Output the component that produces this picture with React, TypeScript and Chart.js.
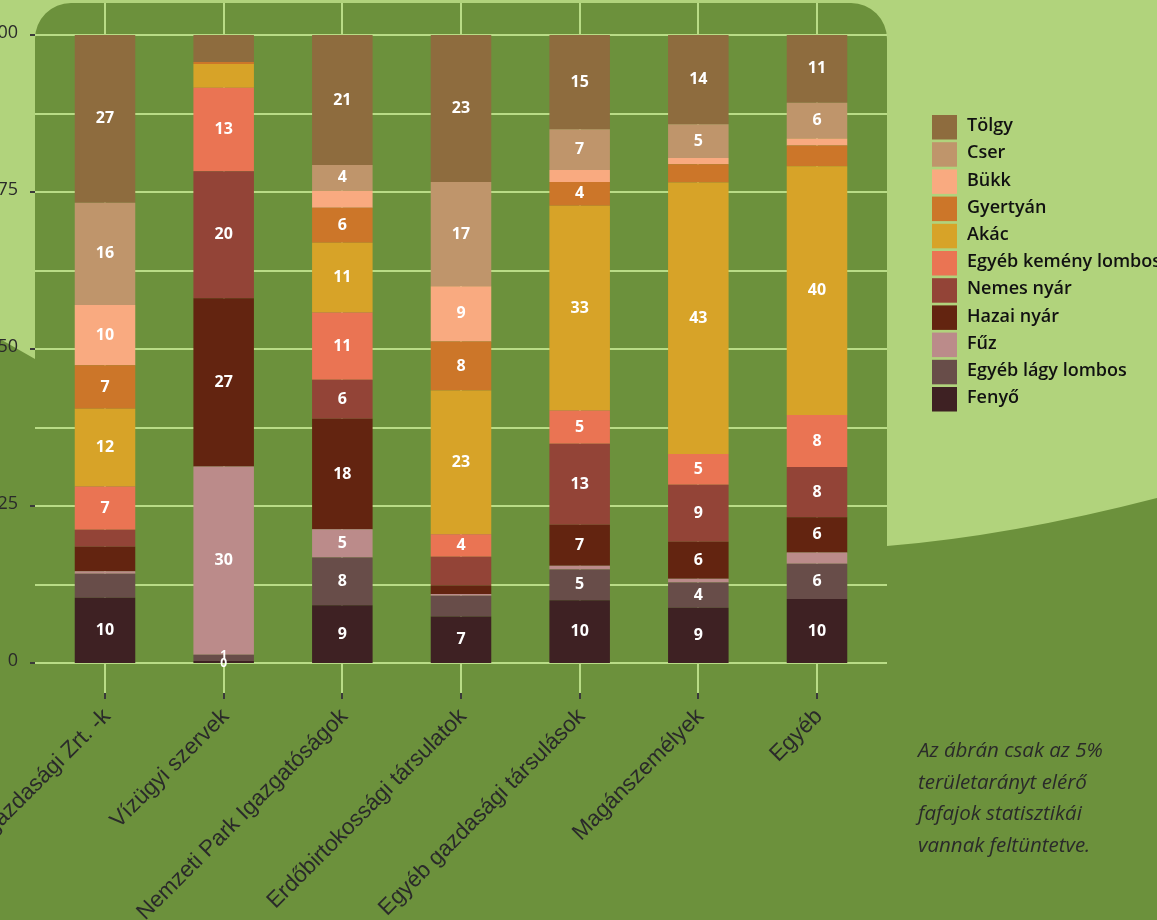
import React, { useEffect, useRef } from "react";
import { Chart, registerables } from "chart.js";

Chart.register(...registerables);

const categories = [
  "Állami erdőgazdasági Zrt. -k",
  "Vízügyi szervek",
  "Nemzeti Park Igazgatóságok",
  "Erdőbirtokossági társulatok",
  "Egyéb gazdasági társulások",
  "Magánszemélyek",
  "Egyéb",
];

const seriesNames = [
  "Tölgy",
  "Cser",
  "Bükk",
  "Gyertyán",
  "Akác",
  "Egyéb kemény lombos",
  "Nemes nyár",
  "Hazai nyár",
  "Fűz",
  "Egyéb lágy lombos",
  "Fenyő",
];

const seriesColors = [
  "#8e6c3e",
  "#bf956b",
  "#f9aa80",
  "#cc7629",
  "#d7a328",
  "#ea7453",
  "#934437",
  "#632410",
  "#bb8b8a",
  "#684d49",
  "#3e2123",
];

const tolgy = [26.7, 4.3, 20.7, 23.4, 15.0, 14.2, 10.8];
const cser = [16.3, 0, 4.1, 16.6, 6.5, 5.4, 5.7];
const bukk = [9.6, 0, 2.7, 8.8, 1.9, 1.0, 1.1];
const gyertyan = [6.9, 0.3, 5.6, 7.8, 3.8, 2.9, 3.3];
const akac = [12.4, 3.8, 11.1, 22.9, 32.6, 43.2, 39.6];
const egyebKemeny = [6.9, 13.3, 10.7, 3.6, 5.3, 4.9, 8.3];
const nemesNyar = [2.7, 20.2, 6.2, 4.5, 12.9, 9.1, 8.0];
const hazaiNyar = [3.9, 26.8, 17.6, 1.4, 6.5, 5.9, 5.6];
const fuz = [0.4, 30.0, 4.5, 0.3, 0.6, 0.6, 1.8];
const egyebLagy = [3.8, 1.0, 7.6, 3.3, 4.9, 4.0, 5.6];
const fenyo = [10.4, 0.3, 9.2, 7.4, 10.0, 8.8, 10.2];

const seriesValues = [
  tolgy,
  cser,
  bukk,
  gyertyan,
  akac,
  egyebKemeny,
  nemesNyar,
  hazaiNyar,
  fuz,
  egyebLagy,
  fenyo,
];

// 1 = value label printed in the segment (as in the original figure)
const showLabel = [
  [1, 0, 1, 1, 1, 1, 1],
  [1, 0, 1, 1, 1, 1, 1],
  [1, 0, 0, 1, 0, 0, 0],
  [1, 0, 1, 1, 1, 0, 0],
  [1, 0, 1, 1, 1, 1, 1],
  [1, 1, 1, 1, 1, 1, 1],
  [0, 1, 1, 0, 1, 1, 1],
  [0, 1, 1, 0, 1, 1, 1],
  [0, 1, 1, 0, 0, 0, 0],
  [0, 1, 1, 0, 1, 1, 1],
  [1, 1, 1, 1, 1, 1, 1],
];

const yTicks = [0, 25, 50, 75, 100];
const yGrid = [0, 12.5, 25, 37.5, 50, 62.5, 75, 87.5, 100];

const footnoteLines = [
  "Az ábrán csak az 5%",
  "területarányt elérő",
  "fafajok statisztikái",
  "vannak feltüntetve.",
];

const DARK = "#6c913c";
const LIGHT = "#b1d37c";
const GRID = "#b9dc86";
const TEXT = "#2a2a2a";

const decorPlugin = {
  id: "decor",
  beforeDraw(chart: any) {
    const ctx = chart.ctx;
    const W = chart.width;
    const H = chart.height;
    const R = 36;
    ctx.save();
    ctx.fillStyle = LIGHT;
    ctx.fillRect(0, 0, W, H);
    ctx.fillStyle = DARK;
    ctx.beginPath();
    ctx.moveTo(0, 339);
    ctx.lineTo(35, 359);
    ctx.lineTo(35, 3 + R);
    ctx.arcTo(35, 3, 35 + R, 3, R);
    ctx.lineTo(887 - R, 3);
    ctx.arcTo(887, 3, 887, 3 + R, R);
    ctx.lineTo(887, 546);
    ctx.quadraticCurveTo(1010, 536, W, 498);
    ctx.lineTo(W, H);
    ctx.lineTo(0, H);
    ctx.closePath();
    ctx.fill();
    ctx.restore();
  },
  beforeDatasetsDraw(chart: any) {
    const ctx = chart.ctx;
    const xs = chart.scales.x;
    const ys = chart.scales.y;
    ctx.save();
    ctx.strokeStyle = GRID;
    ctx.lineWidth = 2;
    yGrid.forEach((v) => {
      const y = Math.round(ys.getPixelForValue(v));
      ctx.beginPath();
      ctx.moveTo(35, y);
      ctx.lineTo(887, y);
      ctx.stroke();
    });
    categories.forEach((_, i) => {
      const x = Math.round(xs.getPixelForValue(i));
      ctx.strokeStyle = GRID;
      ctx.beginPath();
      ctx.moveTo(x, 3);
      ctx.lineTo(x, 693);
      ctx.stroke();
      ctx.strokeStyle = "#3a3a3a";
      ctx.beginPath();
      ctx.moveTo(x, 693);
      ctx.lineTo(x, 699);
      ctx.stroke();
    });
    ctx.restore();
  },
  afterDatasetsDraw(chart: any) {
    const ctx = chart.ctx;
    const xs = chart.scales.x;
    const ys = chart.scales.y;
    ctx.save();

    // value labels
    ctx.fillStyle = "#ffffff";
    ctx.textAlign = "center";
    ctx.textBaseline = "middle";
    chart.data.datasets.forEach((ds: any, di: number) => {
      const meta = chart.getDatasetMeta(di);
      const si = ds.seriesIndex;
      meta.data.forEach((el: any, ci: number) => {
        const v = seriesValues[si][ci];
        if (!showLabel[si][ci]) return;
        const cy = (el.y + el.base) / 2;
        if (v < 2) {
          ctx.font = "bold 12px 'Open Sans'";
          ctx.fillText(String(Math.round(v)), el.x, cy + (di === 0 ? 2 : -2));
        } else {
          ctx.font = "bold 16px 'Open Sans'";
          ctx.fillText(String(Math.round(v)), el.x, cy);
        }
      });
    });

    // y ticks
    ctx.fillStyle = TEXT;
    ctx.textAlign = "right";
    ctx.textBaseline = "middle";
    ctx.font = "18px 'Open Sans'";
    yTicks.forEach((v) => {
      const y = ys.getPixelForValue(v);
      ctx.fillText(String(v), 18, y - 2);
      ctx.fillStyle = "#3a3a3a";
      ctx.fillRect(30, Math.round(y) - 1, 5, 2);
      ctx.fillStyle = TEXT;
    });

    // x labels
    ctx.font = "22.5px 'Liberation Sans', Arial, sans-serif";
    ctx.textAlign = "right";
    ctx.textBaseline = "middle";
    categories.forEach((c, i) => {
      const x = xs.getPixelForValue(i);
      ctx.save();
      ctx.translate(x + 2, 713);
      ctx.rotate(-Math.PI / 4);
      ctx.fillText(c, 0, 0);
      ctx.restore();
    });

    // legend
    ctx.textAlign = "left";
    ctx.textBaseline = "middle";
    ctx.font = "600 18px 'Open Sans'";
    seriesNames.forEach((n, i) => {
      const top = 115 + i * 27.2;
      ctx.fillStyle = seriesColors[i];
      ctx.fillRect(932, top, 25, 24.5);
      ctx.fillStyle = "#111111";
      ctx.fillText(n, 967, top + 11);
    });

    // footnote
    ctx.fillStyle = TEXT;
    ctx.font = "italic 20.5px 'Open Sans'";
    footnoteLines.forEach((t, i) => {
      ctx.fillText(t, 918, 751 + i * 31.7);
    });

    ctx.restore();
  },
};

export default function App() {
  const ref = useRef<HTMLCanvasElement | null>(null);

  useEffect(() => {
    document.body.style.margin = "0";
    if (!ref.current) return;
    const order = seriesNames.map((_, i) => i).reverse();
    const chart = new Chart(ref.current, {
      type: "bar",
      data: {
        labels: categories,
        datasets: order.map((si) => ({
          label: seriesNames[si],
          data: seriesValues[si],
          backgroundColor: seriesColors[si],
          borderWidth: 0,
          seriesIndex: si,
        })) as any,
      },
      options: {
        responsive: false,
        animation: false,
        layout: {
          padding: { left: 45.67, right: 280.67, top: 35, bottom: 257 },
        },
        datasets: {
          bar: { categoryPercentage: 1, barPercentage: 0.51 },
        },
        plugins: {
          legend: { display: false },
          tooltip: { enabled: false },
        },
        scales: {
          x: { stacked: true, display: false },
          y: { stacked: true, display: false, min: 0, max: 100 },
        },
      },
      plugins: [decorPlugin],
    });
    return () => chart.destroy();
  }, []);

  return (
    <div style={{ width: 1157, height: 920 }}>
      <canvas ref={ref} width={1157} height={920} style={{ display: "block" }} />
    </div>
  );
}
